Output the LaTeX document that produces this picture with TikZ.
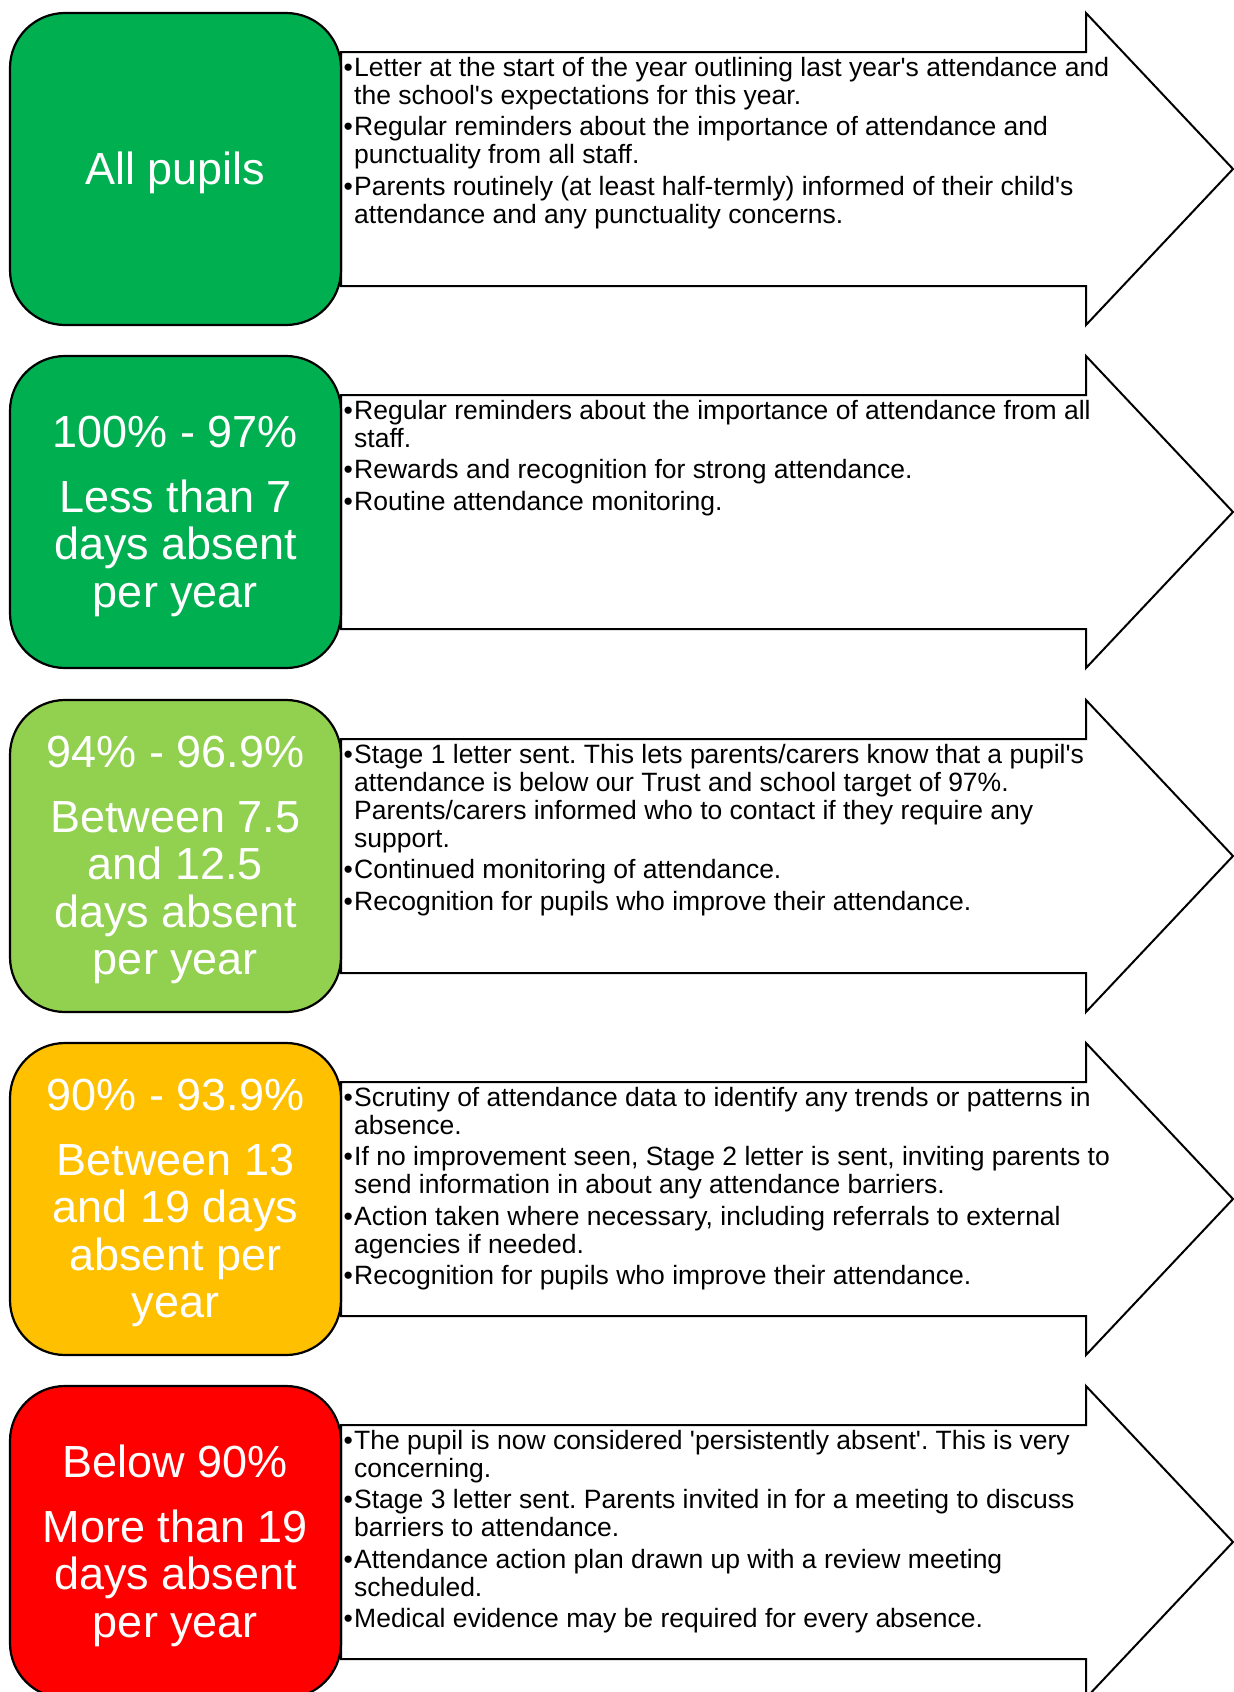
\documentclass[tikz,border=0pt]{standalone}
\usepackage{fontspec}
\setmainfont{Liberation Sans}
\usepackage{tikz}
\frenchspacing

\definecolor{lvlgreen}{HTML}{00B050}
\definecolor{lvllime}{HTML}{92D050}
\definecolor{lvlamber}{HTML}{FFC000}
\definecolor{lvlred}{HTML}{FF0000}

\newcommand{\bdot}{\makebox[10.5pt][l]{\textbullet}}
\newcommand{\bgap}{\hspace*{10.5pt}}
\newcommand{\sq}{\textquotesingle}
\newcommand{\lvltop}{\rule{0pt}{40pt}}

\begin{document}
\begin{tikzpicture}[x=1pt,y=-1pt,
    lvl/.style={draw=black,line width=2.2pt,rounded corners=55pt,minimum width=331pt,minimum height=312pt,
        text=white,align=center,inner sep=0pt,font=\fontsize{45}{47.5}\selectfont},
    notes/.style={anchor=north west,align=left,inner sep=0pt,font=\fontsize{26.5}{28}\selectfont},
    band/.style={draw=black,line width=2pt,fill=white,line join=miter}]
    \useasboundingbox (0,0) rectangle (1234,1692);

    % arrows behind the level boxes
    \draw[band] (341,52) -- (1086,52) -- (1086,13) -- (1233,169) -- (1086,325) -- (1086,286) -- (341,286) -- cycle;
    \draw[band] (341,395) -- (1086,395) -- (1086,356) -- (1233,512) -- (1086,668) -- (1086,629) -- (341,629) -- cycle;
    \draw[band] (341,739) -- (1086,739) -- (1086,700) -- (1233,856) -- (1086,1012) -- (1086,973) -- (341,973) -- cycle;
    \draw[band] (341,1082) -- (1086,1082) -- (1086,1043) -- (1233,1199) -- (1086,1355) -- (1086,1316) -- (341,1316) -- cycle;
    \draw[band] (341,1425) -- (1086,1425) -- (1086,1386) -- (1233,1542) -- (1086,1698) -- (1086,1659) -- (341,1659) -- cycle;

    % level boxes
    \node[lvl,fill=lvlgreen] (lvl1) at (175.5,169) {\lvltop All pupils};
    \node[lvl,fill=lvlgreen] (lvl2) at (175.5,512) {\lvltop 100\% - 97\%\\[17pt]Less than 7\\days absent\\per year};
    \node[lvl,fill=lvllime] (lvl3) at (175.5,856) {\lvltop 94\% - 96.9\%\\[17pt]Between 7.5\\and 12.5\\days absent\\per year};
    \node[lvl,fill=lvlamber] (lvl4) at (175.5,1199) {\lvltop 90\% - 93.9\%\\[17pt]Between 13\\and 19 days\\absent per\\year};
    \node[lvl,fill=lvlred] (lvl5) at (175.5,1542) {\lvltop Below 90\%\\[17pt]More than 19\\days absent\\per year};

    % actions
    \node[notes] (act1) at (343.5,57) {\bdot Letter at the start of the year outlining last year\sq s attendance and\\
        \bgap the school\sq s expectations for this year.\\[3.3pt]
        \bdot Regular reminders about the importance of attendance and\\
        \bgap punctuality from all staff.\\[3.3pt]
        \bdot Parents routinely (at least half-termly) informed of their child\sq s\\
        \bgap attendance and any punctuality concerns.};
    \node[notes] (act2) at (343.5,400) {\bdot Regular reminders about the importance of attendance from all\\
        \bgap staff.\\[3.3pt]
        \bdot Rewards and recognition for strong attendance.\\[3.3pt]
        \bdot Routine attendance monitoring.};
    \node[notes] (act3) at (343.5,744) {\bdot Stage 1 letter sent. This lets parents/carers know that a pupil\sq s\\
        \bgap attendance is below our Trust and school target of 97\%.\\
        \bgap Parents/carers informed who to contact if they require any\\
        \bgap support.\\[3.3pt]
        \bdot Continued monitoring of attendance.\\[3.3pt]
        \bdot Recognition for pupils who improve their attendance.};
    \node[notes] (act4) at (343.5,1087) {\bdot Scrutiny of attendance data to identify any trends or patterns in\\
        \bgap absence.\\[3.3pt]
        \bdot If no improvement seen, Stage 2 letter is sent, inviting parents to\\
        \bgap send information in about any attendance barriers.\\[3.3pt]
        \bdot Action taken where necessary, including referrals to external\\
        \bgap agencies if needed.\\[3.3pt]
        \bdot Recognition for pupils who improve their attendance.};
    \node[notes] (act5) at (343.5,1430) {\bdot The pupil is now considered \sq persistently absent\sq. This is very\\
        \bgap concerning.\\[3.3pt]
        \bdot Stage 3 letter sent. Parents invited in for a meeting to discuss\\
        \bgap barriers to attendance.\\[3.3pt]
        \bdot Attendance action plan drawn up with a review meeting\\
        \bgap scheduled.\\[3.3pt]
        \bdot Medical evidence may be required for every absence.};
\end{tikzpicture}
\end{document}
